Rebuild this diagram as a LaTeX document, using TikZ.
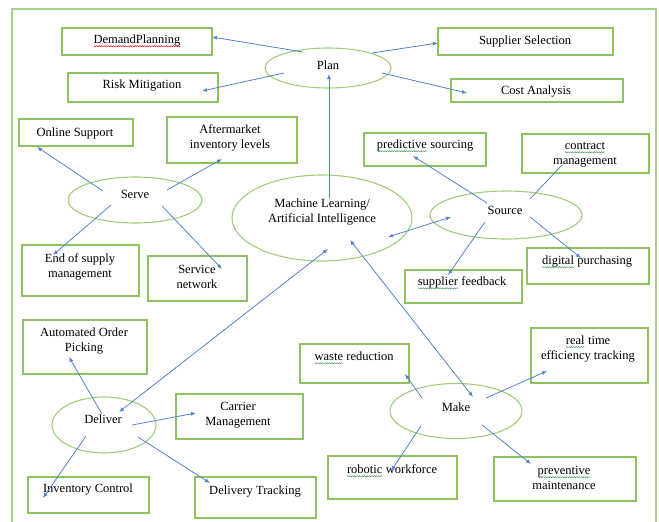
\documentclass[tikz,border=0pt]{standalone}
\usepackage{fontspec}
\setmainfont{Liberation Serif}
\usetikzlibrary{shapes.geometric,arrows.meta,calc,decorations.pathmorphing}
\definecolor{boxc}{RGB}{140,195,95}
\definecolor{ellc}{RGB}{160,206,125}
\definecolor{framec}{RGB}{168,208,141}
\definecolor{arrc}{RGB}{85,130,205}
\definecolor{squig}{RGB}{70,150,90}
\newcommand\wavw[2]{\tikz[baseline=(wv.base),x=1cm,y=1cm]{\node[inner sep=0pt,outer sep=0pt] (wv) {#2};
  \draw[#1, line width=0.45pt, decorate, decoration={snake,amplitude=0.6pt,segment length=2.4pt}] ([yshift=-2.6pt]wv.base west) -- ([yshift=-2.6pt]wv.base east);}}
\tikzset{
  boxn/.style={draw=boxc, line width=1.3pt, inner sep=0pt},
  elln/.style={draw=ellc, line width=1.1pt, ellipse, inner sep=0pt},
  txt/.style={font=\fontsize{12.5}{15}\selectfont, align=center, inner sep=0pt},
  arr/.style={draw=arrc, line width=0.8pt, -{Latex[length=5pt,width=4pt]}},
  darr/.style={draw=arrc, line width=0.8pt, {Latex[length=5pt,width=4pt]}-{Latex[length=5pt,width=4pt]}},
  plainl/.style={draw=arrc, line width=0.8pt}
}
\begin{document}
\begin{tikzpicture}[x=1pt,y=-1pt]
\useasboundingbox (0,0) rectangle (659,522);
\clip (0,0) rectangle (659,522);
\fill[white] (0,0) rectangle (659,522);
\draw[framec, line width=1.8pt] (12,9) rectangle (656,540);

% ellipses
\node[elln, minimum width=126, minimum height=40] (plan) at (328,68) {};
\node[elln, minimum width=180, minimum height=86] (ml) at (322,218) {};
\node[elln, minimum width=152, minimum height=48] (source) at (506,215) {};
\node[elln, minimum width=134, minimum height=46] (serve) at (135,200) {};
\node[elln, minimum width=104, minimum height=56] (deliver) at (104,425) {};
\node[elln, minimum width=132, minimum height=55] (make) at (456,411) {};

\node[txt] (plant) at (328,65) {Plan};
\node[txt] (mlt) at (322,212) {Machine Learning/\\Artificial Intelligence};
\node[txt] (sourcet) at (505,210) {Source};
\node[txt] (servet) at (135,194) {Serve};
\node[txt] (delivert) at (103,419) {Deliver};
\node[txt] (maket) at (456,407) {Make};

% boxes
\node[boxn, minimum width=150, minimum height=27] (dp) at (137,41.5) {};
\node[boxn, minimum width=150, minimum height=29] (rm) at (143,87.5) {};
\node[boxn, minimum width=175, minimum height=27] (ss) at (525.5,41.5) {};
\node[boxn, minimum width=172, minimum height=23] (ca) at (537,90.5) {};
\node[boxn, minimum width=114, minimum height=27] (os) at (76,132.5) {};
\node[boxn, minimum width=130, minimum height=46] (am) at (232,140) {};
\node[boxn, minimum width=122, minimum height=33] (ps) at (425,149.5) {};
\node[boxn, minimum width=127, minimum height=39] (cm) at (585.5,153.5) {};
\node[boxn, minimum width=122, minimum height=36] (dpu) at (588,266) {};
\node[boxn, minimum width=117, minimum height=33] (sf) at (463.5,286.5) {};
\node[boxn, minimum width=117, minimum height=51] (es) at (80.5,270.5) {};
\node[boxn, minimum width=99, minimum height=45] (sn) at (197.5,278.5) {};
\node[boxn, minimum width=124, minimum height=54] (aop) at (85,347) {};
\node[boxn, minimum width=127, minimum height=45] (cmg) at (239.5,416.5) {};
\node[boxn, minimum width=121, minimum height=36] (ic) at (88.5,495) {};
\node[boxn, minimum width=121, minimum height=41] (dt) at (255.5,497.5) {};
\node[boxn, minimum width=109, minimum height=39] (wr) at (354.5,363.5) {};
\node[boxn, minimum width=117, minimum height=55] (rt) at (589.5,355.5) {};
\node[boxn, minimum width=129, minimum height=43] (rw) at (392.5,477.5) {};
\node[boxn, minimum width=142, minimum height=44] (pm) at (565,479) {};

% box texts
\node[txt] (dpt) at (137,41) {\wavw{red}{DemandPlanning}};
\node[txt] (rmt) at (142,86) {Risk Mitigation};
\node[txt] (sst) at (525,41) {Supplier Selection};
\node[txt] (cat) at (536,92) {Cost Analysis};
\node[txt] (ost) at (75,133) {Online Support};
\node[txt] (amt) at (230,138) {Aftermarket\\inventory levels};
\node[txt] (pst) at (425,146) {\wavw{squig}{predictive} sourcing};
\node[txt] (cmt) at (585,155) {\wavw{squig}{contract}\\management};
\node[txt] (dput) at (587,262) {\wavw{squig}{digital} purchasing};
\node[txt] (sft) at (462,283) {\wavw{squig}{supplier} feedback};
\node[txt] (est) at (80,266.5) {End of supply\\management};
\node[txt] (snt) at (197,276.5) {Service\\network};
\node[txt] (aopt) at (84,341.5) {Automated Order\\Picking};
\node[txt] (cmgt) at (238,415) {Carrier\\Management};
\node[txt] (ict) at (88,490) {Inventory Control};
\node[txt] (dtt) at (255,492) {Delivery Tracking};
\node[txt] (wrt) at (354,358) {\wavw{squig}{waste} reduction};
\node[txt] (rtt) at (588,349) {\wavw{squig}{real} time\\efficiency tracking};
\node[txt] (rwt) at (392,471) {\wavw{squig}{robotic} workforce};
\node[txt] (pmt) at (564,478) {\wavw{squig}{preventive}\\maintenance};

% connectors
\draw[arr] ($(plan)+(-25,-16)$) -- ($(dp)+(75,-4.5)$);
\draw[arr] ($(plan)+(-44,5)$) -- ($(rm)+(59,3.5)$);
\draw[arr] ($(plan)+(44,-15)$) -- ($(ss)+(-87.5,1.5)$);
\draw[arr] ($(plan)+(54,5)$) -- ($(ca)+(-70,2.5)$);
\draw[arr] ($(ml)+(7,-19)$) -- ($(plan)+(1,6)$);

\draw[arr] ($(serve)+(-32,-9)$) -- ($(os)+(-39,14.5)$);
\draw[arr] ($(serve)+(32,-10)$) -- ($(am)+(-10,19)$);
\draw[arr] ($(serve)+(-24,5)$) -- ($(es)+(-27.5,-15.5)$);
\draw[arr] ($(serve)+(27,6)$) -- ($(sn)+(24.5,-9.5)$);

\draw[darr] ($(ml)+(6,31)$) -- ($(deliver)+(15,-13)$);
\draw[arr] ($(deliver)+(-2,-11)$) -- ($(aop)+(-16,10)$);
\draw[arr] ($(deliver)+(28,0)$) -- ($(cmg)+(-43.5,-3.5)$);
\draw[arr] ($(deliver)+(-18,11)$) -- ($(ic)+(-45.5,3)$);
\draw[arr] ($(deliver)+(34,12)$) -- ($(dt)+(-45.5,-14.5)$);

\draw[darr] ($(ml)+(66,19)$) -- ($(source)+(-55,2)$);
\draw[arr] ($(source)+(-19,-12)$) -- ($(ps)+(-12,6.5)$);
\draw[plainl] ($(source)+(24,-16)$) -- ($(cm)+(-23.5,11.5)$);
\draw[arr] ($(source)+(24,2)$) -- ($(dpu)+(-7,-8)$);
\draw[arr] ($(source)+(-21,7)$) -- ($(sf)+(-15.5,-11.5)$);

\draw[darr] ($(make)+(17,-14)$) -- ($(ml)+(28,22)$);
\draw[arr] ($(make)+(-34,-13)$) -- ($(wr)+(50.5,10.5)$);
\draw[arr] ($(make)+(30,-13)$) -- ($(rt)+(-42.5,15.5)$);
\draw[arr] ($(make)+(-35,15)$) -- ($(rw)+(-1.5,-6.5)$);
\draw[arr] ($(make)+(26,14)$) -- ($(pm)+(-34,-15)$);
\end{tikzpicture}
\end{document}
